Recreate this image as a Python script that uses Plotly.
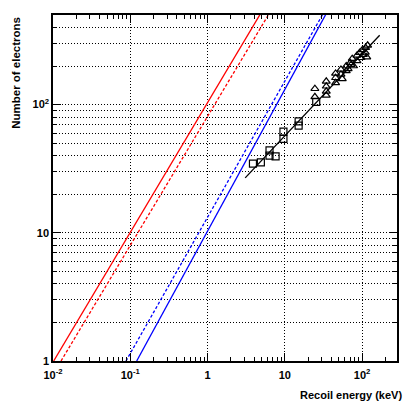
import plotly.graph_objects as go

# ── Données ──────────────────────────────────────────────────────────────────
red_solid_e = [0.0102, 4.8]
red_solid_n = [1.0, 507.0]
red_dash_e = [0.0127, 6.2]
red_dash_n = [1.0, 507.0]

blue_solid_e = [0.121, 34.0]
blue_solid_n = [1.0, 507.0]
blue_dash_e = [0.088, 31.0]
blue_dash_n = [1.0, 507.0]

fit_e = [3.07, 169.0]
fit_n = [26.8, 348.0]

sq_e = [3.87, 4.9, 6.34, 6.34, 7.6, 9.6, 9.6, 15.1, 15.1, 25.5]
sq_n = [34.6, 35.4, 44.0, 40.0, 39.5, 61.6, 54.0, 74.0, 68.6, 105.0]

tri_e = [24.5, 24.5, 34.4, 34.4, 34.4, 34.4, 45.4, 45.4, 45.4, 53.3, 53.3,
         55.4, 62.4, 62.4, 70.3, 74.6, 77.6, 85.9, 85.9, 92.9, 96.8, 100.7,
         104.0, 111.0, 110.0, 118.0, 115.0, 66.0, 72.0]
tri_n = [133, 115, 152, 139, 127, 118, 175, 162, 148, 188, 172,
         159, 200, 183, 212, 228, 200, 242, 219, 254, 232, 267,
         245, 278, 255, 290, 235, 190, 205]

x_major = [0.01, 0.1, 1, 10, 100]
x_labels = ["10<sup>-2</sup>", "10<sup>-1</sup>", "1", "10", "10<sup>2</sup>"]
y_major = [1, 10, 100]
y_labels = ["1", "10", "10<sup>2</sup>"]
x_minor = [m * d for d in (0.01, 0.1, 1, 10, 100) for m in range(2, 10)]
y_minor = [m * d for d in (1, 10, 100) for m in range(2, 10)]

FONT = "Liberation Sans, Arial, sans-serif"
RED = "#ff0000"
BLUE = "#0000ff"

fig = go.Figure()
for xs, ys, col, dash in [
    (red_solid_e, red_solid_n, RED, "solid"),
    (red_dash_e, red_dash_n, RED, "3px,2px"),
    (blue_solid_e, blue_solid_n, BLUE, "solid"),
    (blue_dash_e, blue_dash_n, BLUE, "3px,2px"),
    (fit_e, fit_n, "#000000", "solid"),
]:
    fig.add_trace(go.Scatter(x=xs, y=ys, mode="lines",
                             line=dict(color=col, width=1.3, dash=dash)))

fig.add_trace(go.Scatter(
    x=sq_e, y=sq_n, mode="markers",
    marker=dict(symbol="square-open", size=7, color="#000000",
                line=dict(width=1.2)),
))
fig.add_trace(go.Scatter(
    x=tri_e, y=tri_n, mode="markers",
    marker=dict(symbol="triangle-up-open", size=7, color="#000000",
                line=dict(width=1.2)),
))

axis_common = dict(
    type="log", showline=True, linecolor="#000000", linewidth=1.5,
    mirror="allticks", ticks="inside", ticklen=8, tickwidth=1,
    tickcolor="#000000", zeroline=False, automargin=False,
    gridcolor="#000000", gridwidth=1, griddash="1px,2px",
    tickfont=dict(family=FONT, size=11, color="#000000", weight="bold"),
)

fig.update_xaxes(
    **axis_common, range=[-2, 2.452], tickmode="array",
    tickvals=x_major, ticktext=x_labels, showgrid=True,
    ticklabelstandoff=3,
    minor=dict(tickmode="array", tickvals=x_minor, ticks="inside",
               ticklen=4, tickcolor="#000000", showgrid=False),
)
fig.update_yaxes(
    **axis_common, range=[0, 2.699], tickmode="array",
    tickvals=y_major, ticktext=y_labels, showgrid=True,
    minor=dict(tickmode="array", tickvals=y_minor, ticks="inside",
               ticklen=4, tickcolor="#000000", showgrid=True,
               gridcolor="#000000", griddash="1px,2px", gridwidth=1),
)

fig.add_annotation(
    text="<b>Number of electrons</b>", textangle=-90,
    xref="paper", yref="paper", x=-0.108, y=1.0,
    xanchor="center", yanchor="top", showarrow=False,
    font=dict(family=FONT, size=11.5, color="#000000"),
)
fig.add_annotation(
    text="<b>Recoil energy (keV)</b>",
    xref="paper", yref="paper", x=1.02, y=-0.098,
    xanchor="right", yanchor="middle", showarrow=False,
    font=dict(family=FONT, size=11, color="#000000"),
)

# la page ajoute 8 px de marge au body : on compense ici
fig.update_layout(
    width=407, height=407, showlegend=False,
    paper_bgcolor="#ffffff", plot_bgcolor="#ffffff",
    margin=dict(l=45, r=18, t=7, b=54),
    font=dict(family=FONT, size=11, color="#000000"),
)

fig.write_html("out.html")
